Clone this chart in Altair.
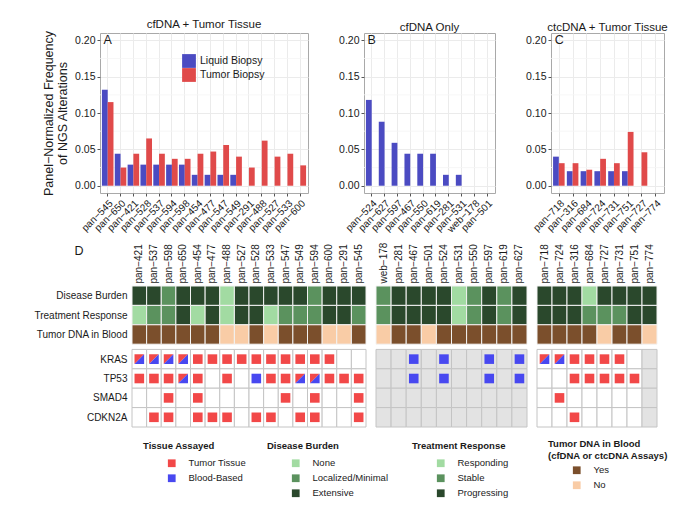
import altair as alt
import pandas as pd

FONT = "Liberation Sans"

# ---------------- data: top bar panels ----------------
TYPES = ["Liquid Biopsy", "Tumor Biopsy"]

A_patients = ["pan−545", "pan−650", "pan−421", "pan−528", "pan−537", "pan−594", "pan−598", "pan−454",
              "pan−477", "pan−547", "pan−549", "pan−291", "pan−488", "pan−527", "pan−533", "pan−600"]
A_liquid = [0.132, 0.044, 0.029, 0.029, 0.029, 0.029, 0.029, 0.015, 0.015, 0.015, 0.015, 0, 0, 0, 0, 0]
A_tumor = [0.115, 0.025, 0.044, 0.065, 0.044, 0.037, 0.037, 0.044, 0.047, 0.056, 0.040, 0.025, 0.062, 0.040, 0.044, 0.028]

B_patients = ["pan−524", "pan−627", "pan−597", "pan−467", "pan−550", "pan−619", "pan−281", "pan−531", "web−178", "pan−501"]
B_liquid = [0.118, 0.088, 0.059, 0.044, 0.044, 0.044, 0.015, 0.015, 0, 0]

C_patients = ["pan−718", "pan−316", "pan−684", "pan−724", "pan−731", "pan−751", "pan−727", "pan−774"]
C_liquid = [0.040, 0.020, 0.020, 0.020, 0.020, 0.020, 0, 0]
C_tumor = [0.031, 0.031, 0.022, 0.037, 0.031, 0.074, 0.046, 0]

MAJOR = [0.0, 0.05, 0.10, 0.15, 0.20]
MINOR = [0.025, 0.075, 0.125, 0.175]

# ---------------- data: heat map panels ----------------
PH_ROWS = ["Disease Burden", "Treatment Response", "Tumor DNA in Blood"]
GENES = ["KRAS", "TP53", "SMAD4", "CDKN2A"]
BURDEN = ["None", "Localized/Minimal", "Extensive"]
RESPONSE = ["Responding", "Stable", "Progressing"]
DNA = ["Yes", "No"]
TISSUE = ["Tumor Tissue", "Blood-Based"]

D1_patients = ["pan−421", "pan−537", "pan−598", "pan−650", "pan−454", "pan−477", "pan−488", "pan−527",
               "pan−528", "pan−533", "pan−547", "pan−549", "pan−594", "pan−600", "pan−291", "pan−545"]
D1_burden = ["Extensive", "Extensive", "Localized/Minimal", "Extensive", "Extensive", "Extensive", "None", "Extensive",
             "Extensive", "Extensive", "Extensive", "Extensive", "Localized/Minimal", "Extensive", "Extensive", "Extensive"]
D1_response = ["Responding", "Stable", "Stable", "Progressing", "Responding", "Progressing", "Responding", "Progressing",
               "Progressing", "Responding", "Stable", "Stable", "Stable", "Progressing", "Progressing", "Stable"]
D1_dna = ["Yes", "Yes", "Yes", "Yes", "Yes", "Yes", "No", "No", "Yes", "No", "Yes", "Yes", "Yes", "No", "No", "Yes"]
D1_assayed = ["Yes"] * 16
D1_KRAS = ["TB", "TB", "TB", "TB", "T", "T", "T", "T", "T", "T", "T", "T", "T", "T", "", ""]
D1_TP53 = ["T", "T", "T", "TB", "T", "", "T", "", "B", "T", "T", "TB", "TB", "T", "T", "T"]
D1_SMAD4 = ["", "", "T", "", "T", "", "", "", "", "", "T", "", "T", "", "", "T"]
D1_CDKN2A = ["", "T", "T", "", "T", "T", "T", "", "T", "T", "", "T", "T", "", "", "T"]

D2_patients = ["web−178", "pan−281", "pan−467", "pan−501", "pan−524", "pan−531", "pan−550", "pan−597", "pan−619", "pan−627"]
D2_burden = ["Localized/Minimal", "Extensive", "Extensive", "Extensive", "Extensive", "None",
             "Localized/Minimal", "Extensive", "Localized/Minimal", "Extensive"]
D2_response = ["Stable", "Progressing", "Progressing", "Progressing", "Progressing", "Responding",
               "Stable", "Progressing", "Stable", "Progressing"]
D2_dna = ["No", "Yes", "Yes", "No", "Yes", "Yes", "Yes", "Yes", "Yes", "Yes"]
D2_assayed = ["No"] * 10
D2_KRAS = ["", "", "B", "", "B", "", "", "B", "", "B"]
D2_TP53 = ["", "", "B", "", "B", "", "", "B", "", "B"]
D2_SMAD4 = [""] * 10
D2_CDKN2A = [""] * 10

D3_patients = ["pan−718", "pan−724", "pan−316", "pan−684", "pan−727", "pan−731", "pan−751", "pan−774"]
D3_burden = ["Extensive", "Extensive", "Extensive", "None", "Extensive", "Extensive", "Extensive", "Extensive"]
D3_response = ["Progressing", "Progressing", "Progressing", "Stable", "Stable", "Stable", "Progressing", "Progressing"]
D3_dna = ["Yes", "Yes", "Yes", "Yes", "No", "Yes", "Yes", "No"]
D3_assayed = ["Yes", "Yes", "Yes", "Yes", "Yes", "Yes", "Yes", "No"]
D3_KRAS = ["TB", "TB", "T", "T", "T", "T", "", ""]
D3_TP53 = ["", "", "T", "T", "T", "T", "T", ""]
D3_SMAD4 = ["", "T", "", "", "", "", "", ""]
D3_CDKN2A = ["", "", "T", "", "", "", "", ""]

# ---------------- styles ----------------
BAR_COLORS = ["#4b4bc2", "#e04a4a"]
TISSUE_COLORS = ["#f24848", "#4848f0"]
GREENS = ["#a2dba2", "#5b925e", "#2a482c"]
DNA_COLORS = ["#7b4f2c", "#f9cca6"]
TXT = "#1a1a1a"

BAR_H = 160
HEAT_H = 141
GAP = 0.27
YMAX = 3 + GAP + 4


def bar_df(patients, liquid, tumor=None):
    rows = []
    for i, p in enumerate(patients):
        rows.append({"patient": p, "type": TYPES[0], "value": liquid[i]})
        if tumor is not None:
            rows.append({"patient": p, "type": TYPES[1], "value": tumor[i]})
    return pd.DataFrame(rows)


def bar_panel(title, letter, patients, df, width, first):
    xenc = alt.X("patient:N", sort=patients,
                 scale=alt.Scale(domain=patients, paddingInner=0.1, paddingOuter=0.15),
                 axis=alt.Axis(title=None, labelAngle=-45, labelAlign="right", labelBaseline="top",
                               labelFontSize=10, labelPadding=2, tickSize=3, tickColor="#555555",
                               grid=True, gridColor="#ebebeb", bandPosition=0.5, domain=False,
                               labelColor=TXT, labelOverlap=False))
    yaxis = alt.Axis(values=MAJOR, format=".2f", tickSize=3, tickColor="#555555", labelPadding=2,
                     labelFontSize=10.5, grid=True, gridColor="#ebebeb", domain=False, labelColor=TXT,
                     labelOverlap=False,
                     title=["Panel−Normalized Frequency", "of NGS Alterations"] if first else None,
                     titleFontSize=12.5, titleFontWeight="normal", titlePadding=5, titleLineHeight=14,
                     titleColor=TXT)
    yenc = alt.Y("value:Q", scale=alt.Scale(domain=[-0.01, 0.21], nice=False, zero=False), axis=yaxis)

    minor = alt.Chart(pd.DataFrame({"value": MINOR})).mark_rule(color="#f5f5f5", strokeWidth=0.8).encode(y=yenc)

    if first:
        leg = alt.Legend(orient="none", legendX=82, legendY=21, title=None, symbolType="square",
                         symbolSize=190, symbolStrokeWidth=0, symbolOpacity=1, labelFontSize=10.5,
                         labelColor=TXT, rowPadding=0, labelOffset=4, padding=0)
    else:
        leg = None
    bars = alt.Chart(df).mark_bar().encode(
        x=xenc,
        xOffset=alt.XOffset("type:N", scale=alt.Scale(domain=TYPES, paddingInner=0, paddingOuter=0)),
        y=yenc,
        y2=alt.datum(0),
        color=alt.Color("type:N", scale=alt.Scale(domain=TYPES, range=BAR_COLORS), legend=leg),
    )
    # panel letter placed at the first category, at the 0.20 level
    lab_df = pd.DataFrame({"t": [letter], "patient": [patients[0]], "value": [MAJOR[-1]]})
    lab = alt.Chart(lab_df).mark_text(
        fontSize=12.5, align="center", baseline="middle", color=TXT
    ).encode(x=xenc, y=yenc, text="t:N")

    return alt.layer(minor, bars, lab).properties(
        width=width, height=BAR_H,
        title=alt.TitleParams(title, fontSize=11.5, fontWeight="normal", anchor="middle",
                              frame="group", offset=0, color=TXT),
    )


LEG_COMMON = dict(orient="none", symbolType="square", symbolSize=60, symbolStrokeWidth=0,
                  labelFontSize=9.5, titleFontSize=9.5, titleFontWeight="bold", labelColor=TXT,
                  titleColor=TXT, rowPadding=4, labelOffset=12, symbolOffset=24,
                  padding=0, symbolOpacity=1)


def heat_panel(patients, burden, response, dna, assayed, muts, width, first):
    ph = []
    for i, p in enumerate(patients):
        for r, (name, vals) in enumerate(zip(PH_ROWS, [burden, response, dna])):
            ph.append({"patient": p, "row": name, "value": vals[i], "y0": r, "y1": r + 1})
    ph = pd.DataFrame(ph)
    bg = []
    pts = []
    for g, gene in enumerate(GENES):
        y0 = 3 + GAP + g
        for i, p in enumerate(patients):
            bg.append({"patient": p, "gene": gene, "assayed": assayed[i], "y0": y0, "y1": y0 + 1})
            m = muts[g][i]
            yc = y0 + 0.5
            if m == "T":
                pts.append({"patient": p, "y0": yc, "tissue": TISSUE[0], "part": "full"})
            elif m == "B":
                pts.append({"patient": p, "y0": yc, "tissue": TISSUE[1], "part": "full"})
            elif m == "TB":
                pts.append({"patient": p, "y0": yc, "tissue": TISSUE[0], "part": "ul"})
                pts.append({"patient": p, "y0": yc, "tissue": TISSUE[1], "part": "lr"})
    bg = pd.DataFrame(bg)
    pts = pd.DataFrame(pts)

    xenc = alt.X("patient:N", sort=patients, scale=alt.Scale(domain=patients, paddingInner=0, paddingOuter=0),
                 axis=alt.Axis(orient="top", title=None, labelAngle=-90, labelAlign="left",
                               labelBaseline="middle", labelFontSize=10, labelPadding=3, ticks=False,
                               domain=False, grid=False, labelColor=TXT, labelOverlap=False))
    if first:
        names = PH_ROWS + GENES
        centers = [0.5, 1.5, 2.5] + [3 + GAP + g + 0.5 for g in range(4)]
        expr = ""
        for c, n in zip(centers[:-1], names[:-1]):
            expr += f"datum.value < {c + 0.3} ? '{n}' : "
        expr += f"'{names[-1]}'"
        yaxis = alt.Axis(values=centers, labelExpr=expr, title=None, ticks=False, domain=False, grid=False,
                         labelPadding=5, labelFontSize=10, labelColor=TXT, labelOverlap=False)
    else:
        yaxis = None
    yscale = alt.Scale(domain=[0, YMAX], reverse=True, nice=False, zero=False)
    yenc = alt.Y("y0:Q", scale=yscale, axis=yaxis)

    def leg(title, x, y, tpad, lh=13):
        if not first:
            return None
        return alt.Legend(title=title, legendX=x, legendY=y, titlePadding=tpad, titleLineHeight=lh,
                          **LEG_COMMON)

    layers = []
    specs = [(PH_ROWS[0], BURDEN, GREENS, leg("Disease Burden", 135, 155, 8)),
             (PH_ROWS[1], RESPONSE, GREENS, leg("Treatment Response", 280, 155, 8)),
             (PH_ROWS[2], DNA, DNA_COLORS,
              leg(["Tumor DNA in Blood", "(cfDNA or ctcDNA Assays)"], 416, 153, 5, 12))]
    for row, dom, rng, lg in specs:
        layers.append(
            alt.Chart(ph).transform_filter(alt.datum.row == row)
            .mark_rect(stroke="#f2f2f2", strokeWidth=1)
            .encode(x=xenc, y=yenc, y2="y1:Q",
                    color=alt.Color("value:N", scale=alt.Scale(domain=dom, range=rng), legend=lg))
        )
    layers.append(
        alt.Chart(bg).mark_rect(stroke="#c4c4c4", strokeWidth=1)
        .encode(x=xenc, y=yenc, y2="y1:Q",
                fill=alt.Fill("assayed:N", scale=alt.Scale(domain=["Yes", "No"], range=["#ffffff", "#e3e3e3"]),
                              legend=None))
    )
    layers.append(
        alt.Chart(pts).mark_point(filled=True, opacity=1, strokeWidth=0, size=92)
        .encode(x=xenc, y=yenc,
                color=alt.Color("tissue:N", scale=alt.Scale(domain=TISSUE, range=TISSUE_COLORS),
                                legend=leg("Tissue Assayed", 11, 155, 8)),
                shape=alt.Shape("part:N", scale=alt.Scale(domain=["full", "ul", "lr"],
                                                          range=["square", "M-1,-1L1,-1L-1,1Z", "M1,-1L1,1L-1,1Z"]),
                                legend=None))
    )
    return alt.layer(*layers).resolve_scale(color="independent").properties(
        width=width, height=HEAT_H, view=alt.ViewBackground(stroke="transparent"))


A = bar_panel("cfDNA + Tumor Tissue", "A", A_patients, bar_df(A_patients, A_liquid, A_tumor), 208, True)
B = bar_panel("cfDNA Only", "B", B_patients, bar_df(B_patients, B_liquid), 131, False)
C = bar_panel("ctcDNA + Tumor Tissue", "C", C_patients, bar_df(C_patients, C_liquid, C_tumor), 113, False)

# panel letter "D" sits in a narrow blank cell left of the first heat map
D_label = alt.Chart(pd.DataFrame({"t": ["D"]})).mark_text(fontSize=12.5, color=TXT).encode(
    x=alt.value(-21), y=alt.value(-35), text="t:N"
).properties(width=22, height=HEAT_H, view=alt.ViewBackground(stroke="transparent"))

D1 = heat_panel(D1_patients, D1_burden, D1_response, D1_dna, D1_assayed,
                [D1_KRAS, D1_TP53, D1_SMAD4, D1_CDKN2A], 234, True)
D2 = heat_panel(D2_patients, D2_burden, D2_response, D2_dna, D2_assayed,
                [D2_KRAS, D2_TP53, D2_SMAD4, D2_CDKN2A], 151, False)
D3 = heat_panel(D3_patients, D3_burden, D3_response, D3_dna, D3_assayed,
                [D3_KRAS, D3_TP53, D3_SMAD4, D3_CDKN2A], 120, False)

top = alt.hconcat(A, B, C, spacing=56, bounds="flush").resolve_scale(color="independent")
bottom = alt.hconcat(D_label, D1, D2, D3, spacing=10, bounds="flush").resolve_scale(
    color="independent", fill="independent")

chart = (
    alt.vconcat(top, bottom, spacing=6)
    .resolve_scale(color="independent")
    .properties(padding={"left": 25, "top": 10, "right": 4, "bottom": 4})
    .configure(font=FONT)
    .configure_view(stroke="#a9a9a9")
    .configure_axis(labelFont=FONT, titleFont=FONT)
    .configure_legend(labelFont=FONT, titleFont=FONT)
    .configure_title(font=FONT)
)

chart.save("out.html", embed_options={"renderer": "svg", "actions": False})
